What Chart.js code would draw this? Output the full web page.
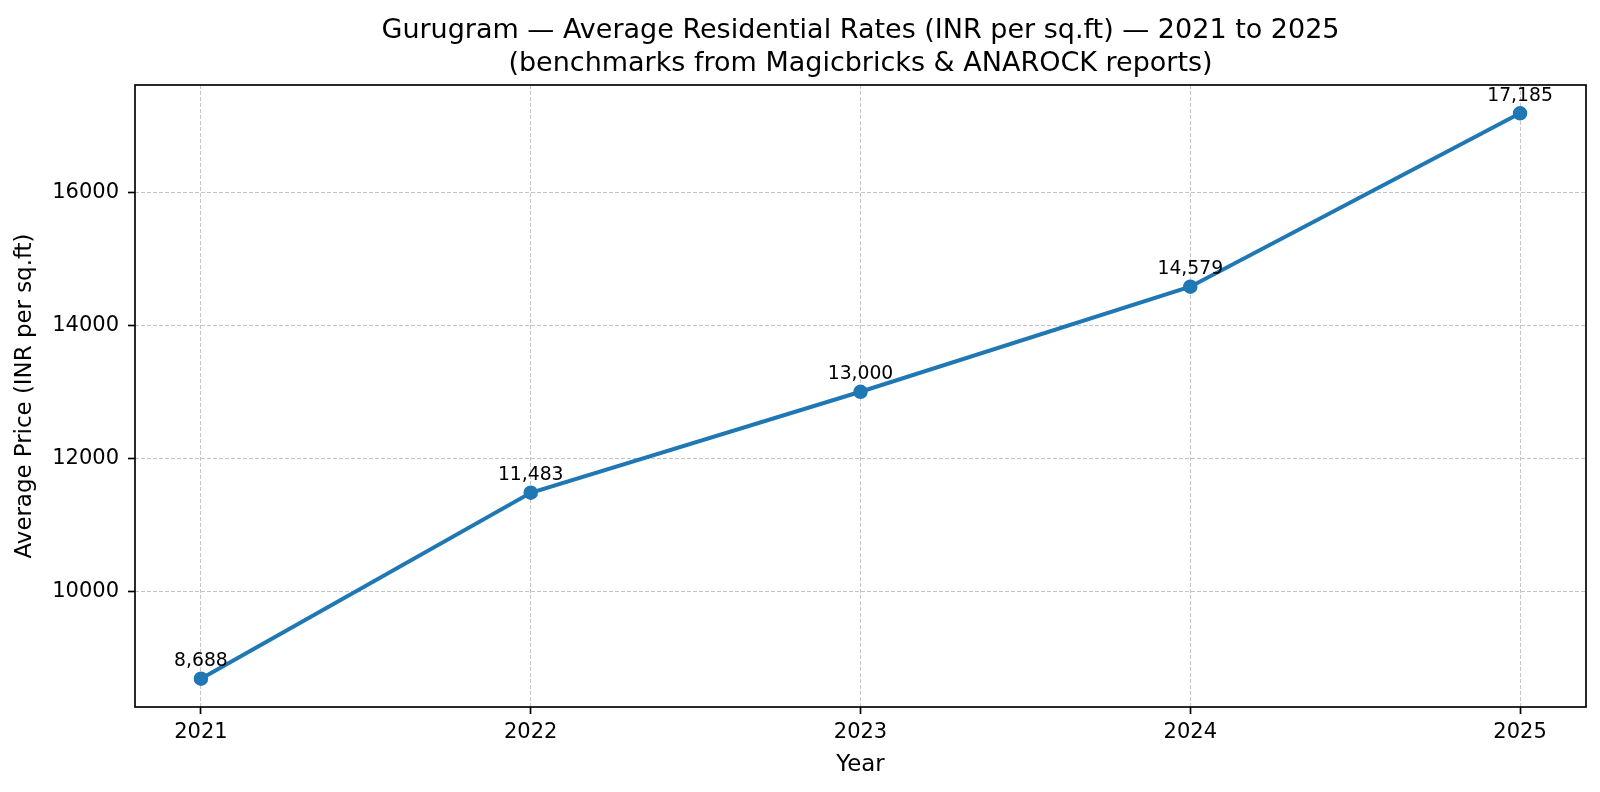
<!DOCTYPE html>
<html lang="en">
<head>
  <meta charset="UTF-8">
  <title>Gurugram Average Residential Rates</title>
  <script src="https://cdn.jsdelivr.net/npm/chart.js"></script>
  <style>
    html, body { margin: 0; padding: 0; background: #fff; }
    #wrap { width: 1600px; height: 792px; }
  </style>
</head>
<body>
  <div id="wrap"><canvas id="priceChart" width="1600" height="792"></canvas></div>
  <script>
    // data
    const years = [2021, 2022, 2023, 2024, 2025];
    const avgPrice = [8688, 11483, 13000, 14579, 17185];
    const yTickValues = [10000, 12000, 14000, 16000];
    const titleLines = ['Gurugram \u2014 Average Residential Rates (INR per sq.ft) \u2014 2021 to 2025',
                        '(benchmarks from Magicbricks & ANAROCK reports)'];
    // stray little orange mark just under the axis near 2025
    const strayPoint = [{ x: 2024.8, y: 8000 }];

    const FONT = "'DejaVu Sans', sans-serif";
    const BLUE = '#1f77b4';

    // title, value labels over each point and the box around the plot
    const extras = {
      id: 'extras',
      afterDraw(chart) {
        const { ctx, chartArea, scales } = chart;
        const cx = (chartArea.left + chartArea.right) / 2;
        ctx.save();
        ctx.fillStyle = '#000';
        ctx.textAlign = 'center';
        ctx.textBaseline = 'alphabetic';
        ctx.font = '27px ' + FONT;
        ctx.fillText(titleLines[0], cx, 38);
        ctx.fillText(titleLines[1], cx, 71);

        ctx.font = '18.75px ' + FONT;
        years.forEach((yr, i) => {
          const px = scales.x.getPixelForValue(yr);
          const py = scales.y.getPixelForValue(avgPrice[i]);
          ctx.fillText(avgPrice[i].toLocaleString('en-US'), px, py - 12.5);
        });

        ctx.strokeStyle = '#000';
        ctx.lineWidth = 1.67;
        ctx.strokeRect(chartArea.left, chartArea.top, chartArea.right - chartArea.left, chartArea.bottom - chartArea.top);
        ctx.restore();
      }
    };

    const gridOpts = {
      color: 'rgba(176,176,176,0.75)',
      lineWidth: 1,
      tickColor: '#000',
      tickBorderDash: [],
      tickWidth: 1.67,
      tickLength: 7
    };

    const ctx = document.getElementById('priceChart').getContext('2d');
    new Chart(ctx, {
      type: 'line',
      data: {
        datasets: [{
          label: 'Average price',
          data: years.map((y, i) => ({ x: y, y: avgPrice[i] })),
          borderColor: BLUE,
          backgroundColor: BLUE,
          borderWidth: 4,
          pointRadius: 6.25,
          pointHoverRadius: 6.25,
          pointBorderWidth: 2,
          pointBorderColor: BLUE,
          tension: 0
        }, {
          label: 'stray',
          data: strayPoint,
          showLine: false,
          clip: false,
          borderColor: '#f2a33a',
          backgroundColor: '#f2a33a',
          pointRadius: 2,
          pointBorderWidth: 0
        }]
      },
      options: {
        responsive: false,
        animation: false,
        layout: { padding: { left: 0, right: 14, top: 85, bottom: 0 } },
        plugins: {
          legend: { display: false },
          tooltip: { enabled: false },
          title: { display: false }
        },
        scales: {
          x: {
            type: 'linear',
            min: 2020.8,
            max: 2025.2,
            afterBuildTicks: axis => { axis.ticks = years.map(v => ({ value: v })); },
            afterFit: axis => { axis.height = 85; },
            ticks: {
              color: '#000',
              font: { family: FONT, size: 21 },
              padding: 6,
              callback: v => String(v)
            },
            grid: gridOpts,
            border: { display: false, dash: [4, 2] },
            title: {
              display: true,
              text: 'Year',
              color: '#000',
              font: { family: FONT, size: 22.9 },
              padding: { top: 0, bottom: 13 }
            }
          },
          y: {
            min: 8263.15,
            max: 17609.85,
            afterBuildTicks: axis => { axis.ticks = yTickValues.map(v => ({ value: v })); },
            afterFit: axis => { axis.width = 135; },
            ticks: {
              color: '#000',
              font: { family: FONT, size: 21 },
              padding: 9,
              callback: v => String(v)
            },
            grid: gridOpts,
            border: { display: false, dash: [4, 2] },
            title: {
              display: true,
              text: 'Average Price (INR per sq.ft)',
              color: '#000',
              font: { family: FONT, size: 22.9 },
              padding: { top: 11, bottom: 0 }
            }
          }
        }
      },
      plugins: [extras]
    });
  </script>
</body>
</html>
